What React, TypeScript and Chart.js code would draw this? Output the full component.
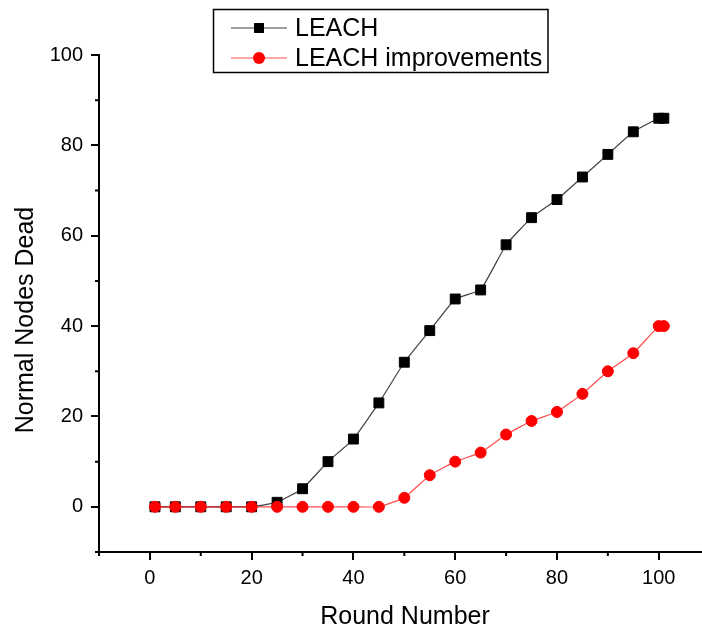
import React, { useEffect, useRef } from "react";
import { Chart, registerables } from "chart.js";

Chart.register(...registerables);

const rounds = [1, 5, 10, 15, 20, 25, 30, 35, 40, 45, 50, 55, 60, 65, 70, 75, 80, 85, 90, 95, 100, 101];
const leach = [0, 0, 0, 0, 0, 1, 4, 10, 15, 23, 32, 39, 46, 48, 58, 64, 68, 73, 78, 83, 86, 86];
const leachImproved = [0, 0, 0, 0, 0, 0, 0, 0, 0, 0, 2, 7, 10, 12, 16, 19, 21, 25, 30, 34, 40, 40];
const seriesNames = ["LEACH", "LEACH improvements"];
const xTicks = [-10, 0, 10, 20, 30, 40, 50, 60, 70, 80, 90, 100];
const yTicks = [-10, 0, 10, 20, 30, 40, 50, 60, 70, 80, 90, 100];
const xTitle = "Round Number";
const yTitle = "Normal Nodes Dead";

const FONT = "'Liberation Sans', Arial, sans-serif";

const minorTicks = {
  id: "minorTicks",
  afterDraw(chart: any) {
    const ctx = chart.ctx;
    const xs = chart.scales.x;
    const ys = chart.scales.y;
    const area = chart.chartArea;
    ctx.save();
    ctx.strokeStyle = "#000";
    ctx.lineWidth = 2;
    ctx.beginPath();
    xTicks.forEach((v) => {
      if (v % 20 !== 0) {
        const px = xs.getPixelForValue(v);
        ctx.moveTo(px, area.bottom);
        ctx.lineTo(px, area.bottom + 4);
      }
    });
    yTicks.forEach((v) => {
      if (v % 20 !== 0) {
        const py = ys.getPixelForValue(v);
        ctx.moveTo(area.left, py);
        ctx.lineTo(area.left - 4, py);
      }
    });
    ctx.stroke();

    // axis titles
    ctx.fillStyle = "#000";
    ctx.font = `25px ${FONT}`;
    ctx.textAlign = "center";
    ctx.textBaseline = "alphabetic";
    ctx.fillText(xTitle, 405, 624);
    ctx.translate(33, 320);
    ctx.rotate(-Math.PI / 2);
    ctx.fillText(yTitle, 0, 0);
    ctx.restore();
  },
};

const boxLegend = {
  id: "boxLegend",
  afterDraw(chart: any) {
    const ctx = chart.ctx;
    ctx.save();
    ctx.strokeStyle = "#000";
    ctx.lineWidth = 1.5;
    ctx.strokeRect(213.5, 9.5, 334.5, 63);
    const rows = [
      { y: 28, line: "rgba(0,0,0,0.75)", fill: "#000", shape: "rect", label: seriesNames[0] },
      { y: 58, line: "rgba(255,0,0,0.7)", fill: "#ff0000", shape: "circle", label: seriesNames[1] },
    ];
    rows.forEach((r) => {
      ctx.strokeStyle = r.line;
      ctx.lineWidth = 1.2;
      ctx.beginPath();
      ctx.moveTo(231, r.y);
      ctx.lineTo(287, r.y);
      ctx.stroke();
      ctx.fillStyle = r.fill;
      if (r.shape === "rect") {
        ctx.fillRect(254, r.y - 5, 10, 10);
      } else {
        ctx.beginPath();
        ctx.arc(259, r.y, 6, 0, Math.PI * 2);
        ctx.fill();
      }
      ctx.fillStyle = "#000";
      ctx.font = `25px ${FONT}`;
      ctx.textBaseline = "middle";
      ctx.textAlign = "left";
      ctx.fillText(r.label, 295, r.y + 1);
    });
    ctx.restore();
  },
};

export default function App() {
  const ref = useRef<HTMLCanvasElement>(null);

  useEffect(() => {
    if (!ref.current) return;
    const chart = new Chart(ref.current, {
      type: "line",
      data: {
        datasets: [
          {
            label: seriesNames[1],
            data: rounds.map((x, i) => ({ x, y: leachImproved[i] })),
            borderColor: "rgba(255,0,0,0.7)",
            backgroundColor: "#ff0000",
            pointBackgroundColor: "#ff0000",
            pointBorderColor: "#ff0000",
            borderWidth: 1.2,
            pointStyle: "circle",
            pointRadius: 5.5,
            pointBorderWidth: 1,
            tension: 0.1,
            order: 0,
          },
          {
            label: seriesNames[0],
            data: rounds.map((x, i) => ({ x, y: leach[i] })),
            borderColor: "rgba(0,0,0,0.75)",
            backgroundColor: "#000",
            pointBackgroundColor: "#000",
            pointBorderColor: "#000",
            borderWidth: 1.2,
            pointStyle: "rect",
            pointRadius: 7,
            pointBorderWidth: 1,
            tension: 0.1,
            order: 1,
          },
        ],
      },
      options: {
        responsive: false,
        animation: false,
        layout: { padding: { top: 55, right: 0, bottom: 0, left: 0 } },
        plugins: {
          legend: { display: false },
          tooltip: { enabled: false },
        },
        scales: {
          x: {
            type: "linear",
            min: -10,
            max: 108.5,
            afterBuildTicks: (scale: any) => {
              scale.ticks = xTicks.map((v) => ({ value: v }));
            },
            afterFit: (scale: any) => {
              scale.height = 76;
            },
            ticks: {
              autoSkip: false,
              maxRotation: 0,
              padding: 6,
              color: "#000",
              font: { family: FONT, size: 20 },
              callback: (v: any) => (Number(v) % 20 === 0 && Number(v) >= 0 ? String(v) : ""),
            },
            grid: {
              drawOnChartArea: false,
              drawTicks: true,
              tickLength: 8,
              lineWidth: 2,
              color: (c: any) => (c.tick && c.tick.value % 20 === 0 ? "#000" : "rgba(0,0,0,0)"),
            },
            border: { display: true, color: "#000", width: 2 },
            title: { display: false, text: xTitle },
          },
          y: {
            type: "linear",
            min: -10,
            max: 100,
            afterBuildTicks: (scale: any) => {
              scale.ticks = yTicks.map((v) => ({ value: v }));
            },
            afterFit: (scale: any) => {
              scale.width = 99;
            },
            ticks: {
              autoSkip: false,
              padding: 8,
              color: "#000",
              font: { family: FONT, size: 20 },
              callback: (v: any) => (Number(v) % 20 === 0 && Number(v) >= 0 ? String(v) : ""),
            },
            grid: {
              drawOnChartArea: false,
              drawTicks: true,
              tickLength: 8,
              lineWidth: 2,
              color: (c: any) => (c.tick && c.tick.value % 20 === 0 ? "#000" : "rgba(0,0,0,0)"),
            },
            border: { display: true, color: "#000", width: 2 },
            title: { display: false, text: yTitle },
          },
        },
      },
      plugins: [minorTicks, boxLegend],
    });
    return () => chart.destroy();
  }, []);

  return (
    <div style={{ position: "absolute", left: 0, top: 0, width: 702, height: 628, background: "#fff", overflow: "hidden" }}>
      <canvas ref={ref} width={710} height={628} style={{ display: "block" }} />
    </div>
  );
}
